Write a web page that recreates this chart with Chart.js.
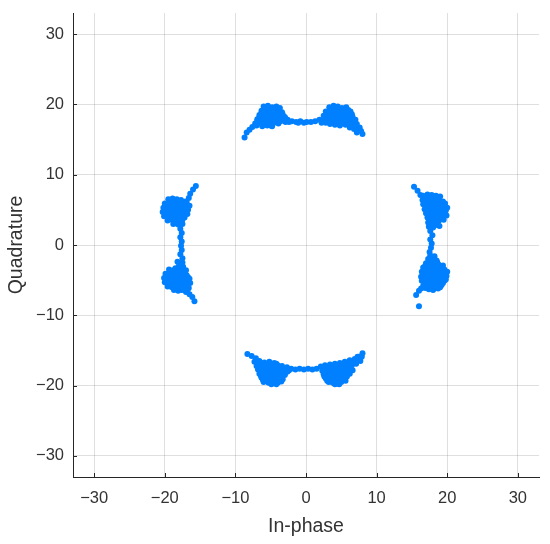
<html>
<head>
<meta charset="UTF-8">
<title>Constellation</title>
<script src="https://cdn.jsdelivr.net/npm/chart.js"></script>
<style>
  body { margin: 0; background: #fff; }
</style>
</head>
<body>
<canvas id="constChart" width="550" height="544"></canvas>
<script>
// symbol clusters, [in-phase, quadrature]
const clusterTop = [
  [-6.0,19.7],[-5.4,19.8],[-4.8,19.6],[-4.2,19.7],[-3.7,19.5],
  [-6.3,19.1],[-5.7,19.2],[-5.1,19.0],[-4.5,19.1],[-3.9,19.0],[-3.4,18.9],
  [-6.6,18.5],[-6.0,18.6],[-5.4,18.4],[-4.8,18.5],[-4.2,18.3],[-3.6,18.4],[-3.0,18.2],
  [-6.9,17.9],[-6.3,18.0],[-5.6,17.8],[-5.0,17.9],[-4.4,17.7],[-3.8,17.8],[-3.2,17.9],[-2.6,17.8],
  [-7.2,17.3],[-6.6,17.4],[-5.9,17.3],[-5.2,17.2],[-4.5,17.4],[-3.9,17.3],
  [-6.2,16.9],[-5.5,17.0],[-4.8,16.9],
  [-5.7,19.4],[-5.1,19.4],[-4.5,19.4],[-3.9,19.3],
  [-6.3,18.8],[-5.7,18.8],[-5.1,18.7],[-4.5,18.8],[-3.9,18.7],[-3.3,18.6],
  [-6.6,18.2],[-6.0,18.2],[-5.4,18.1],[-4.8,18.2],[-4.2,18.0],[-3.5,18.1],[-2.9,18.0],
  [-6.9,17.6],[-6.2,17.6],[-5.5,17.5],[-4.8,17.6],[-4.2,17.5],[-3.6,17.6],[-2.9,17.5],
  [-7.0,17.0],[-6.0,17.1],[-5.0,17.0],[-2.4,17.5],
  [-7.6,16.8],[-8.0,16.4],[-8.4,16.0],[-8.7,15.3],
  [-2.0,17.6],[-1.4,17.5],[-0.8,17.6],[-0.3,17.4],[-1.1,17.4],[0.1,17.5],
  [0.7,17.5],[1.3,17.6],
  [3.3,19.6],[3.9,19.8],[4.5,19.7],[5.1,19.5],[5.7,19.6],
  [2.8,19.0],[3.4,19.1],[4.0,18.9],[4.6,19.1],[5.2,19.0],[5.8,18.9],[6.3,19.0],
  [2.5,18.4],[3.1,18.5],[3.7,18.3],[4.3,18.5],[4.9,18.4],[5.5,18.3],[6.1,18.4],[6.6,18.2],
  [1.9,17.8],[2.5,17.7],[3.1,17.9],[3.7,17.7],[4.3,17.8],[4.9,17.6],[5.5,17.7],[6.2,17.6],[6.8,17.5],
  [3.4,17.2],[4.1,17.1],[4.8,17.0],[5.6,17.1],[6.4,17.0],[7.0,16.9],
  [3.6,19.4],[4.2,19.4],[4.8,19.3],[5.4,19.3],[6.0,19.2],
  [3.1,18.8],[3.7,18.7],[4.3,18.8],[4.9,18.7],[5.5,18.7],[6.1,18.7],[6.5,18.6],
  [2.8,18.1],[3.4,18.1],[4.0,18.1],[4.6,18.1],[5.2,18.0],[5.8,18.0],[6.4,17.9],[7.0,17.8],
  [2.2,17.4],[2.8,17.4],[3.8,17.4],[4.5,17.3],[5.2,17.3],[5.9,17.3],[6.6,17.3],[7.2,17.2],
  [6.8,16.5],[7.4,16.4],[7.2,16.0],[8.0,15.8],[7.6,16.7],[6.2,16.7],[7.8,16.2]
];

const clusterBottom = [
  [-8.3,-15.5],[-7.7,-15.8],[-7.1,-16.1],
  [-7.3,-16.6],[-6.6,-16.5],[-5.9,-16.7],[-5.2,-16.6],[-4.5,-16.8],
  [-7.0,-17.2],[-6.4,-17.1],[-5.8,-17.2],[-5.2,-17.0],[-4.6,-17.2],[-4.0,-17.1],[-3.4,-17.2],[-2.7,-17.4],[-2.1,-17.6],
  [-6.8,-17.7],[-6.2,-17.8],[-5.6,-17.6],[-5.0,-17.8],[-4.4,-17.7],[-3.8,-17.8],[-3.2,-17.9],[-2.6,-18.0],
  [-6.6,-18.3],[-6.0,-18.4],[-5.4,-18.2],[-4.8,-18.4],[-4.2,-18.3],[-3.6,-18.4],[-3.0,-18.5],
  [-6.3,-18.9],[-5.7,-19.0],[-5.1,-18.9],[-4.5,-19.0],[-3.9,-18.9],[-3.3,-19.1],
  [-6.0,-19.5],[-5.3,-19.6],[-4.6,-19.5],[-4.0,-19.6],[-3.5,-19.4],
  [-6.9,-16.9],[-6.3,-16.9],[-5.6,-16.9],[-4.9,-16.9],[-4.2,-16.9],
  [-6.7,-17.4],[-6.1,-17.5],[-5.5,-17.4],[-4.9,-17.5],[-4.3,-17.4],[-3.7,-17.5],[-3.1,-17.6],[-2.4,-17.8],
  [-6.5,-18.0],[-5.9,-18.1],[-5.3,-18.0],[-4.7,-18.1],[-4.1,-18.0],[-3.5,-18.1],[-2.9,-18.2],
  [-6.4,-18.6],[-5.8,-18.7],[-5.2,-18.6],[-4.6,-18.7],[-4.0,-18.6],[-3.4,-18.7],
  [-6.1,-19.2],[-5.5,-19.3],[-4.9,-19.2],[-4.3,-19.3],[-3.7,-19.2],
  [-4.9,-19.8],[-4.2,-19.8],
  [-1.5,-17.7],[-0.9,-17.6],[-0.3,-17.7],[0.3,-17.6],[0.9,-17.7],[1.5,-17.6],
  [2.1,-17.3],[2.7,-17.1],[3.4,-17.0],[4.1,-16.9],[4.8,-16.8],[5.5,-16.6],[6.2,-16.4],[6.9,-16.2],[7.5,-15.9],[8.0,-15.4],[7.7,-16.5],
  [2.3,-17.9],[2.9,-17.7],[3.5,-17.8],[4.1,-17.6],[4.7,-17.7],[5.3,-17.5],[5.9,-17.3],[6.5,-17.1],[7.1,-16.9],
  [2.5,-18.4],[3.1,-18.3],[3.7,-18.5],[4.3,-18.3],[4.9,-18.4],[5.5,-18.2],[6.1,-18.0],[6.6,-17.8],
  [2.8,-19.0],[3.4,-18.9],[4.0,-19.1],[4.6,-19.0],[5.2,-18.9],[5.8,-18.7],
  [3.2,-19.5],[3.8,-19.6],[4.4,-19.7],[5.0,-19.5],[5.6,-19.3],
  [2.4,-17.6],[3.0,-17.4],[3.7,-17.3],[4.4,-17.2],[5.1,-17.1],[5.8,-17.0],[6.5,-16.7],[7.2,-16.5],
  [2.6,-18.1],[3.2,-18.0],[3.9,-18.0],[4.5,-17.9],[5.1,-17.9],[5.7,-17.7],[6.3,-17.5],
  [2.6,-18.7],[3.2,-18.6],[3.8,-18.8],[4.4,-18.7],[5.0,-18.6],[5.6,-18.5],[6.2,-18.3],
  [3.0,-19.3],[3.6,-19.3],[4.2,-19.4],[4.8,-19.2],[5.4,-19.0],
  [4.1,-19.8],[4.7,-19.8],[7.3,-15.9],[7.9,-15.9]
];

const clusterLeft = [
  [-19.5,6.5],[-18.9,6.6],[-18.3,6.5],[-17.7,6.4],[-17.1,6.2],
  [-20.0,5.9],[-19.4,6.0],[-18.8,5.9],[-18.2,6.0],[-17.6,5.8],[-17.0,5.7],
  [-20.2,5.3],[-19.6,5.4],[-19.0,5.2],[-18.4,5.4],[-17.8,5.2],[-17.2,5.3],[-16.7,5.0],
  [-20.3,4.7],[-19.7,4.8],[-19.1,4.6],[-18.5,4.8],[-17.9,4.6],[-17.3,4.7],[-16.8,4.4],
  [-20.1,4.1],[-19.5,4.2],[-18.9,4.0],[-18.3,4.2],[-17.7,4.0],[-17.2,3.9],
  [-19.6,3.5],[-19.0,3.6],[-18.4,3.4],[-17.8,3.5],
  [-18.8,3.0],[-18.1,2.9],[-17.5,3.0],
  [-19.2,6.3],[-18.6,6.3],[-18.0,6.2],[-17.4,6.0],
  [-19.7,5.7],[-19.1,5.6],[-18.5,5.7],[-17.9,5.5],[-17.3,5.5],[-16.8,5.4],
  [-19.9,5.0],[-19.3,5.0],[-18.7,5.0],[-18.1,4.9],[-17.5,4.9],[-17.0,4.9],
  [-19.8,4.4],[-19.2,4.4],[-18.6,4.3],[-18.0,4.4],[-17.4,4.3],
  [-19.3,3.8],[-18.7,3.8],[-18.1,3.7],[-17.5,3.6],
  [-18.5,3.1],[-17.9,3.2],[-16.9,6.1],[-16.5,5.6],
  [-16.6,6.7],[-16.4,7.3],[-16.0,7.9],[-15.6,8.4],
  [-17.8,2.3],[-17.6,1.7],[-17.8,1.1],[-17.6,0.5],[-17.7,-0.1],[-17.6,-0.7],[-17.8,-1.3],[-17.5,-1.9],
  [-18.2,-2.4],[-17.5,-2.5],[-18.0,-3.0],[-17.4,-3.1],
  [-19.4,-3.5],[-18.8,-3.6],[-18.2,-3.6],[-17.6,-3.7],[-17.0,-3.6],
  [-19.9,-4.1],[-19.3,-4.2],[-18.7,-4.1],[-18.1,-4.3],[-17.5,-4.2],[-16.9,-4.3],
  [-20.1,-4.7],[-19.5,-4.8],[-18.9,-4.7],[-18.3,-4.9],[-17.7,-4.8],[-17.1,-4.9],[-16.5,-4.8],
  [-20.0,-5.3],[-19.4,-5.4],[-18.8,-5.3],[-18.2,-5.5],[-17.6,-5.4],[-17.0,-5.5],[-16.4,-5.4],
  [-19.6,-5.9],[-19.0,-6.0],[-18.4,-5.9],[-17.8,-6.1],[-17.2,-6.0],[-16.6,-6.1],
  [-18.7,-6.4],[-18.1,-6.5],[-17.0,-6.7],
  [-18.5,-3.3],[-17.8,-3.3],[-19.1,-3.9],[-18.5,-3.9],[-17.9,-3.9],[-17.2,-3.9],
  [-19.6,-4.4],[-19.0,-4.5],[-18.4,-4.5],[-17.8,-4.5],[-17.2,-4.5],[-16.7,-4.6],
  [-19.7,-5.0],[-19.1,-5.0],[-18.5,-5.1],[-17.9,-5.1],[-17.3,-5.2],[-16.7,-5.1],
  [-19.3,-5.7],[-18.7,-5.6],[-18.1,-5.7],[-17.5,-5.7],[-16.9,-5.8],
  [-18.4,-6.2],[-17.6,-6.4],[-17.2,-6.4],[-16.8,-6.5],
  [-16.5,-7.0],[-16.1,-7.4],[-15.8,-8.0]
];

const clusterRight = [
  [15.3,8.3],[15.8,7.7],[16.2,7.1],
  [16.6,7.0],[17.2,7.2],[17.8,7.1],[18.4,7.0],[19.0,6.9],
  [16.5,6.4],[17.1,6.5],[17.7,6.3],[18.3,6.5],[18.9,6.3],[19.4,6.2],
  [16.6,5.8],[17.2,5.7],[17.8,5.9],[18.4,5.7],[19.0,5.8],[19.6,5.6],[20.0,5.3],
  [16.8,5.1],[17.4,5.2],[18.0,5.0],[18.6,5.2],[19.2,5.0],[19.8,4.9],
  [17.0,4.5],[17.6,4.4],[18.2,4.6],[18.8,4.4],[19.4,4.5],[19.9,4.2],
  [17.2,3.9],[17.8,3.8],[18.4,3.9],[19.0,3.7],[19.5,3.6],
  [17.3,3.2],[17.9,3.1],[18.5,3.2],[18.9,2.7],
  [17.4,2.6],[18.0,2.5],
  [16.9,6.8],[17.5,6.8],[18.1,6.7],[18.7,6.7],
  [16.8,6.1],[17.4,6.1],[18.0,6.1],[18.6,6.0],[19.2,6.0],[19.7,5.9],
  [17.0,5.4],[17.6,5.5],[18.2,5.4],[18.8,5.4],[19.4,5.3],
  [17.2,4.8],[17.8,4.8],[18.4,4.8],[19.0,4.7],[19.6,4.6],
  [17.4,4.2],[18.0,4.2],[18.6,4.1],[19.2,4.0],
  [17.6,3.5],[18.2,3.5],[18.8,3.4],[17.7,2.9],[18.3,2.8],
  [17.6,2.0],[17.9,1.4],[17.6,0.8],[17.8,0.2],[17.7,-0.4],[17.5,-1.0],
  [17.6,-1.5],[18.2,-1.6],[17.3,-2.0],[17.9,-2.1],[18.5,-2.2],
  [17.0,-2.6],[17.6,-2.7],[18.2,-2.6],[18.8,-2.8],[19.4,-2.9],
  [16.6,-3.2],[17.2,-3.3],[17.8,-3.2],[18.4,-3.4],[19.0,-3.3],[19.6,-3.5],[20.0,-3.8],
  [16.4,-3.8],[17.0,-3.9],[17.6,-3.8],[18.2,-4.0],[18.8,-3.9],[19.4,-4.1],[19.9,-4.4],
  [16.3,-4.5],[16.9,-4.4],[17.5,-4.6],[18.1,-4.5],[18.7,-4.7],[19.3,-4.6],[19.8,-4.9],
  [16.4,-5.1],[17.0,-5.2],[17.6,-5.1],[18.2,-5.3],[18.8,-5.2],[19.4,-5.4],
  [16.6,-5.8],[17.2,-5.7],[17.8,-5.9],[18.4,-5.8],[19.0,-6.0],
  [17.4,-6.3],[18.0,-6.4],
  [17.9,-1.8],[17.6,-2.4],[18.2,-2.4],[18.6,-2.5],
  [16.9,-2.9],[17.5,-3.0],[18.1,-2.9],[18.7,-3.1],[19.3,-3.2],
  [16.7,-3.5],[17.3,-3.6],[17.9,-3.5],[18.5,-3.7],[19.1,-3.6],[19.7,-3.8],
  [16.6,-4.2],[17.2,-4.1],[17.8,-4.2],[18.4,-4.3],[19.0,-4.2],[19.6,-4.4],
  [16.6,-4.8],[17.2,-4.9],[17.8,-4.8],[18.4,-5.0],[19.0,-4.9],[19.6,-5.1],
  [16.8,-5.5],[17.4,-5.4],[18.0,-5.6],[18.6,-5.5],[19.2,-5.7],
  [16.9,-6.1],[17.6,-6.0],[18.2,-6.1],[18.7,-6.2],[16.3,-6.2],
  [16.0,-6.5],[15.6,-7.1],[16.0,-8.7]
];

const tickValues = [-30, -20, -10, 0, 10, 20, 30];
const axisLimit = 33;

const points = clusterTop.concat(clusterBottom, clusterLeft, clusterRight)
  .map(p => ({ x: p[0], y: p[1] }));

const textColor = '#333333';
const fontFamily = '"Liberation Sans", Arial, sans-serif';

function fmtTick(v) {
  return v < 0 ? '\u2212' + Math.abs(v) : String(v);
}

// matlab style: short tick marks pointing into the plot
const innerTicks = {
  id: 'innerTicks',
  afterDraw(chart) {
    const ctx = chart.ctx;
    const xs = chart.scales.x, ys = chart.scales.y;
    const area = chart.chartArea;
    ctx.save();
    ctx.strokeStyle = '#262626';
    ctx.lineWidth = 1;
    ctx.beginPath();
    tickValues.forEach(v => {
      const px = Math.round(xs.getPixelForValue(v)) + 0.5;
      ctx.moveTo(px, area.bottom);
      ctx.lineTo(px, area.bottom - 4);
      const py = Math.round(ys.getPixelForValue(v)) + 0.5;
      ctx.moveTo(area.left, py);
      ctx.lineTo(area.left + 4, py);
    });
    ctx.stroke();
    ctx.restore();
  }
};

const ctx = document.getElementById('constChart').getContext('2d');
const constChart = new Chart(ctx, {
  type: 'scatter',
  data: {
    datasets: [{
      data: points,
      backgroundColor: 'rgb(0,128,255)',
      borderWidth: 0,
      pointRadius: 3,
      pointHoverRadius: 3
    }]
  },
  options: {
    responsive: false,
    animation: false,
    layout: { padding: { top: 13, right: 11, bottom: 0, left: 0 } },
    plugins: { legend: { display: false }, tooltip: { enabled: false } },
    scales: {
      x: {
        type: 'linear',
        min: -axisLimit,
        max: axisLimit,
        afterBuildTicks: s => { s.ticks = tickValues.map(v => ({ value: v })); },
        afterFit: s => { s.height = 67; s.paddingLeft = 0; s.paddingRight = 0; },
        ticks: {
          callback: fmtTick,
          color: textColor,
          padding: 12,
          maxRotation: 0,
          font: { family: fontFamily, size: 16.5 }
        },
        grid: { color: 'rgba(38,38,38,0.15)', drawTicks: false },
        border: { display: true, color: '#262626', width: 1 },
        title: {
          display: true,
          text: 'In-phase',
          color: textColor,
          padding: { top: 0, bottom: 6 },
          font: { family: fontFamily, size: 19.5 }
        }
      },
      y: {
        type: 'linear',
        min: -axisLimit,
        max: axisLimit,
        afterBuildTicks: s => { s.ticks = tickValues.map(v => ({ value: v })); },
        afterFit: s => { s.width = 73; s.paddingTop = 0; s.paddingBottom = 0; },
        ticks: {
          callback: fmtTick,
          color: textColor,
          padding: 9,
          font: { family: fontFamily, size: 16.5 }
        },
        grid: { color: 'rgba(38,38,38,0.15)', drawTicks: false },
        border: { display: true, color: '#262626', width: 1 },
        title: {
          display: true,
          text: 'Quadrature',
          color: textColor,
          padding: { top: 5, bottom: 0 },
          font: { family: fontFamily, size: 19.5 }
        }
      }
    }
  },
  plugins: [innerTicks]
});
</script>
</body>
</html>
